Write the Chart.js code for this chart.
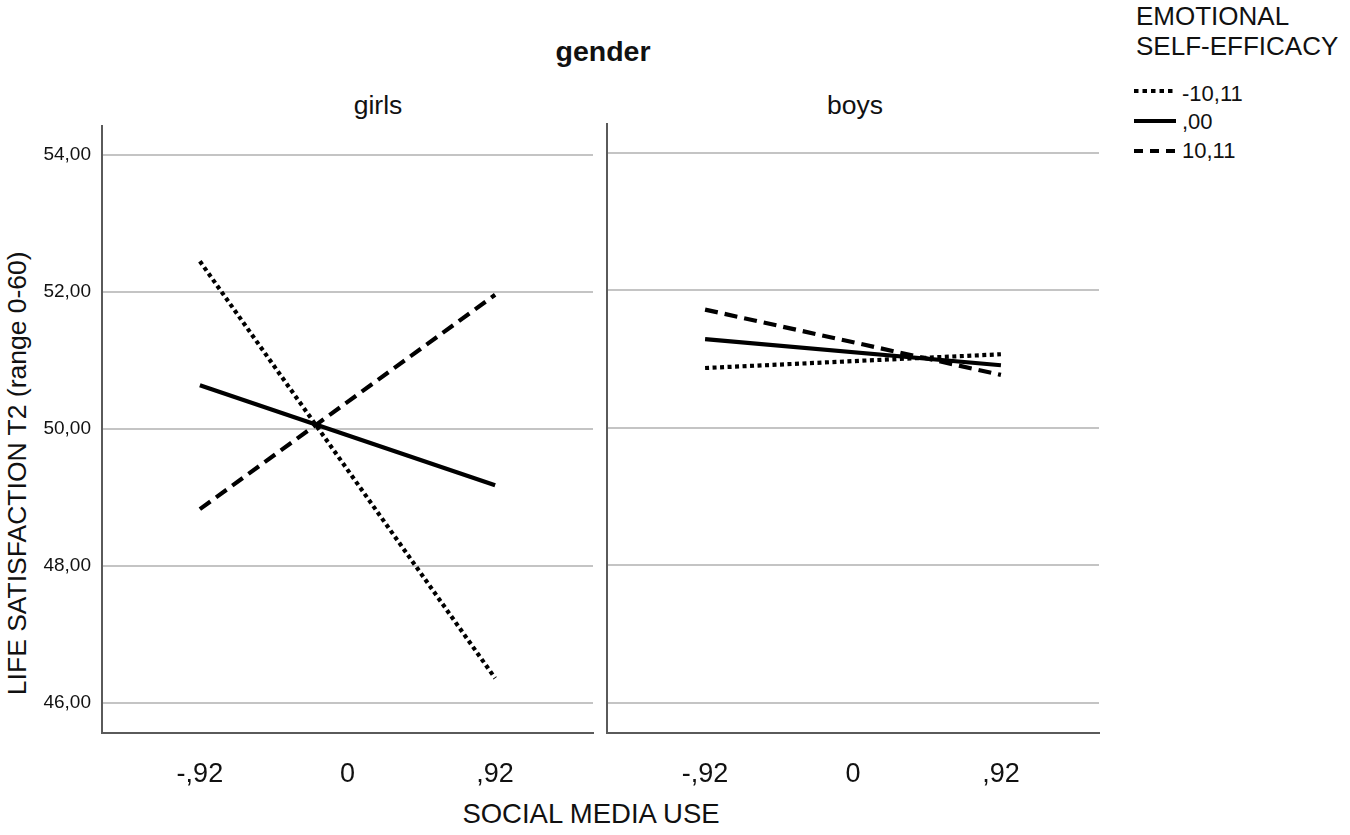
<!DOCTYPE html>
<html>
<head>
<meta charset="utf-8">
<script src="https://cdn.jsdelivr.net/npm/chart.js@4.4.1/dist/chart.umd.min.js"></script>
<style>
  body { margin: 0; width: 1350px; height: 835px; background: #fff; position: relative; overflow: hidden;
         font-family: "Liberation Sans", Arial, sans-serif; color: #111; }
  .txt { position: absolute; white-space: nowrap; }
  .panel, .swatch { position: absolute; }
</style>
</head>
<body>

<div class="txt" style="left:403px; top:37px; width:400px; text-align:center; font-size:28.5px; line-height:28.5px; font-weight:bold;">gender</div>
<div class="txt" id="title0" style="left:278px; top:91.5px; width:200px; text-align:center; font-size:26.5px; line-height:26.5px;"></div>
<div class="txt" id="title1" style="left:755px; top:91.5px; width:200px; text-align:center; font-size:26.5px; line-height:26.5px;"></div>

<div class="txt" style="left:291px; top:800px; width:600px; text-align:center; font-size:27.5px; line-height:27.5px;">SOCIAL MEDIA USE</div>
<div class="txt" style="left:-283px; top:460px; width:600px; height:26.5px; text-align:center; font-size:26.5px; line-height:26.5px; transform:rotate(-90deg);">LIFE SATISFACTION T2 (range 0-60)</div>

<div class="txt" style="left:1136px; top:3px; font-size:26px; line-height:26px;">EMOTIONAL</div>
<div class="txt" style="left:1136px; top:33px; font-size:26px; line-height:26px;">SELF-EFFICACY</div>
<div id="legend"></div>

<canvas class="panel" id="girls" width="600" height="689" style="left:0px; top:104px;"></canvas>
<canvas class="panel" id="boys" width="510" height="689" style="left:600px; top:104px;"></canvas>

<script>
// values (simple slopes at -1 SD / +1 SD of social media use)
const panelNames = ["girls", "boys"]
const efficacyLevels = ["-10,11", ",00", "10,11"]
const xValues = [-0.92, 0.92]
const xTicks = [-0.92, 0, 0.92]
const xTickLabels = ["-,92", "0", ",92"]
const yTicks = [46, 48, 50, 52, 54]

const girlsLow = [52.45, 46.36]
const girlsMid = [50.64, 49.18]
const girlsHigh = [48.83, 51.96]
const boysLow = [50.87, 51.07]
const boysMid = [51.29, 50.91]
const boysHigh = [51.72, 50.77]

const lineDashes = [[4, 3.5], [], [13, 7]]
const axisColor = "#5a5a5a"
const gridColor = "#c4c4c4"

function toPoints(values) {
    return xValues.map(function (x, i) { return {x: x, y: values[i]} })
}

function makePanel(id, seriesList, withYLabels, rightPad) {
    const datasets = seriesList.map(function (values, i) {
        return {
            label: efficacyLevels[i],
            data: toPoints(values),
            borderColor: "#000",
            borderWidth: 4.2,
            borderDash: lineDashes[i],
            borderCapStyle: "butt",
            pointRadius: 0,
            showLine: true,
            fill: false
        }
    })
    return new Chart(document.getElementById(id), {
        type: "scatter",
        data: {datasets: datasets},
        options: {
            responsive: false,
            animation: false,
            events: [],
            layout: {padding: {top: 20, right: rightPad, bottom: 0, left: 0}},
            plugins: {legend: {display: false}, tooltip: {enabled: false}},
            scales: {
                x: {
                    type: "linear",
                    min: -1.53,
                    max: 1.53,
                    afterBuildTicks: function (s) { s.ticks = xTicks.map(function (v) { return {value: v} }) },
                    afterFit: function (s) { s.height = 60 },
                    grid: {display: false},
                    border: {display: true, color: axisColor, width: 2},
                    ticks: {
                        autoSkip: false,
                        maxRotation: 0,
                        padding: 17,
                        color: "#111",
                        font: {family: "Liberation Sans", size: 27},
                        callback: function (v) { return xTickLabels[xTicks.indexOf(v)] }
                    }
                },
                y: {
                    type: "linear",
                    min: 45.56,
                    max: 54.42,
                    afterBuildTicks: function (s) { s.ticks = yTicks.map(function (v) { return {value: v} }) },
                    afterFit: function (s) { s.width = withYLabels ? 102 : 7 },
                    grid: {color: gridColor, lineWidth: 2, drawTicks: false},
                    border: {display: true, color: axisColor, width: 2},
                    ticks: {
                        display: withYLabels,
                        padding: 11,
                        color: "#111",
                        font: {family: "Liberation Sans", size: 19},
                        callback: function (v) { return v.toFixed(2).replace(".", ",") }
                    }
                }
            }
        }
    })
}

makePanel("girls", [girlsLow, girlsMid, girlsHigh], true, 7)
makePanel("boys", [boysLow, boysMid, boysHigh], false, 11)

document.getElementById("title0").textContent = panelNames[0]
document.getElementById("title1").textContent = panelNames[1]

// legend: line swatches + labels
const legendLineY = [91, 121, 151]
const legendTextBase = [102, 130, 159]
const legend = document.getElementById("legend")
efficacyLevels.forEach(function (name, i) {
    const c = document.createElement("canvas")
    c.className = "swatch"
    c.width = 42
    c.height = 10
    c.style.left = "1134px"
    c.style.top = (legendLineY[i] - 5) + "px"
    const ctx = c.getContext("2d")
    ctx.strokeStyle = "#000"
    ctx.lineWidth = 4
    ctx.setLineDash(i == 0 ? [4.5, 4] : lineDashes[i].length ? [9, 7] : [])
    ctx.beginPath()
    ctx.moveTo(0, 5)
    ctx.lineTo(42, 5)
    ctx.stroke()
    legend.appendChild(c)

    const t = document.createElement("div")
    t.className = "txt"
    t.style.left = "1182px"
    t.style.top = (legendTextBase[i] - 18.6) + "px"
    t.style.fontSize = "22px"
    t.style.lineHeight = "22px"
    t.textContent = name
    legend.appendChild(t)
})
</script>
</body>
</html>
